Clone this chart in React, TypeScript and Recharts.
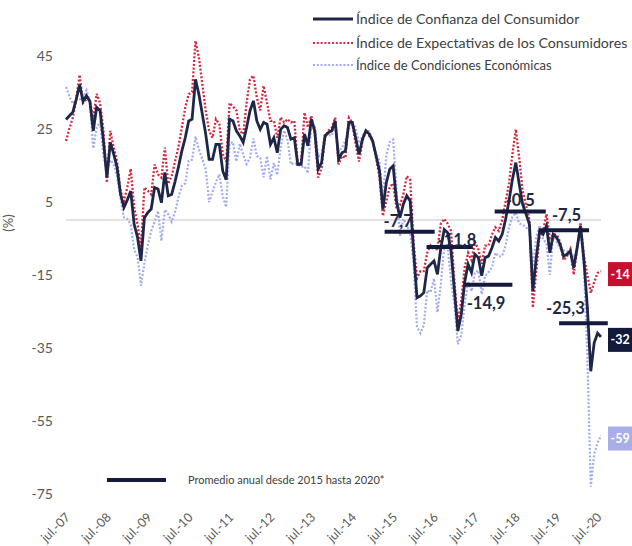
import { LineChart, Line, XAxis, YAxis, ReferenceLine } from "recharts";

// monthly series, jun-07 .. jul-20 (index 0 = jun-07)
const icc = [
  27.5, 28.5, 29.5, 33, 37, 32.5, 34, 32.5, 24.4, 30.8,
  29.9, 21.6, 11.6, 21.2, 18, 14.3, 7.1, 3.4, 5.5, 7.9,
  -1.2, -4.8, -11.2, 0.6, 2, 3, 8.9, 8.5, 4.7, 13,
  6.6, 7, 10.5, 14.5, 18.9, 22.5, 27.1, 27.6, 38.5, 34.4,
  29, 23.5, 16.6, 16.6, 20.7, 20.7, 13.4, 11, 27.6, 27.1,
  24.4, 23, 21.2, 25.3, 29.9, 32.6, 27.1, 24.8, 26.7, 26.2,
  20.7, 22.5, 18.4, 24.8, 25.8, 25.3, 22.1, 22.5, 15.2, 15.2,
  23.5, 20.3, 27.6, 24.4, 13.9, 15.7, 23, 23.9, 24.4, 27.1,
  16.6, 18.4, 18.9, 26.7, 26.7, 22.5, 18, 22.1, 24.4, 23.5,
  21.6, 17.5, 13.4, 2.9, 10.2, 13.9, 14.8, 5.2, 0.6, 4.3,
  6.6, 5.2, -8.5, -21.3, -20.8, -19.9, -13.1, -12.1, -11.2, -14.9,
  -7.6, -2.6, -3.5, -8.5, -19.5, -30.4, -25.8, -17, -12.1, -14.4,
  -9.4, -10.3, -15.3, -10.3, -9.9, -7.6, -4.8, -5.8, -3.9, 0.2,
  5.2, 11.1, 15.7, 9.8, 4.3, 1.6, -1.2, -19.5, -10.3, -3,
  -3.9, -1.6, -9, -3.9, -4.8, -6.7, -9.9, -9.4, -8.5, -13.1,
  -7.6, -1.6, -11.2, -24, -41.4, -33.6, -31, -32,
];

const iec = [
  21.6, 25, 28, 33, 39.7, 32, 33, 32.6, 27.6, 34.5,
  32, 24.4, 10.2, 24.4, 19.8, 16, 7.9, 5.2, 9, 14,
  3.4, -1.2, -7.6, 8.9, 8, 7, 15.2, 12.5, 11.6, 19.8,
  9.9, 12, 16, 20, 25.3, 30.8, 34.4, 35, 49, 44.5,
  37.2, 29.9, 24.4, 22.5, 27.6, 26.2, 18, 16, 32, 31,
  30, 24.4, 23.5, 32, 38.5, 39.5, 33.5, 30, 36.7, 32,
  27.1, 27.1, 22.5, 28.1, 26.7, 27.6, 26.7, 27.1, 15.2, 15.7,
  29.4, 25.3, 28.5, 23.5, 11.6, 14.3, 22.5, 24.4, 25.3, 28,
  15.2, 17.5, 17, 28, 26.7, 20.7, 16, 21.6, 24.4, 23,
  21.6, 17, 11.6, 1.1, 5.2, 9, 10, 3, 4, 7,
  12, 11, -6, -16, -14, -14, -9, -7, -8, -8,
  -1, 0.3, -1, -3, -17, -28, -22, -13, -9, -11,
  -6, -8, -12, -7, -7, -4, -2, -3, 0, 5,
  10, 18, 24.8, 17, 8, 4, 0, -24, -14, -4,
  -3, 1.6, -5, -3.9, -4, -6, -11, -10, -8, -15,
  -7.6, -0.7, -10, -15, -20, -17, -14.5, -14,
];

const ice = [
  36.4, 33.8, 31.8, 33, 33, 33.3, 35.5, 32.4, 19.6, 25.3,
  26.8, 17.4, 13.7, 16.4, 15.3, 11.8, 5.9, 0.7, 0.3, -1.3,
  -8.1, -10.2, -18, -11.9, -7, -3, -0.5, 2.5, -5.7, 2.8,
  1.6, -0.5, 2.2, 6.2, 9.3, 10, 16.2, 16.5, 22.8, 19.3,
  16.7, 13.9, 4.9, 7.8, 10.4, 12.5, 6.5, 3.5, 21, 21.3,
  16, 20.9, 17.8, 15.3, 17, 22.3, 17.5, 17, 11.7, 17.5,
  11.1, 15.6, 12.3, 19.9, 24.5, 21.9, 15.2, 15.6, 15.2, 14.5,
  14.7, 12.8, 26.3, 25.8, 17.4, 17.8, 23.8, 23.2, 23.1, 25.8,
  18.7, 19.8, 21.8, 24.8, 26.7, 25.2, 21, 22.9, 24.4, 24.3,
  21.6, 18.3, 16.1, 5.6, 17.7, 21.3, 22, 8.5, -4.5, 0.3,
  -1.5, -3.5, -12.3, -29.3, -31, -28.8, -19.3, -19.8, -16, -25.3,
  -17.5, -7, -7.3, -16.8, -23.3, -34, -31.5, -23, -16.8, -19.5,
  -14.5, -13.8, -20.3, -15.3, -14.3, -13, -9, -10, -9.8, -7,
  -2, 0.8, 2, -1, -1.3, -2, -3, -12.8, -4.8, -1.5,
  -5.3, -6.4, -15, -3.9, -6, -7.8, -8.3, -8.5, -9.3, -10.3,
  -7.6, -3, -13, -37.5, -73, -64, -61, -59,
];

const xTicks = [1, 13, 25, 37, 49, 61, 73, 85, 97, 109, 121, 133, 145, 157];
const xTickLabels = [
  "jul.-07", "jul.-08", "jul.-09", "jul.-10", "jul.-11", "jul.-12", "jul.-13",
  "jul.-14", "jul.-15", "jul.-16", "jul.-17", "jul.-18", "jul.-19", "jul.-20",
];
const yTicks = [-75, -55, -35, -15, 5, 25, 45];

// annual averages 2015-2020 (level as drawn, span in month index, printed text)
const avgText = ["-7,7", "-11,8", "-14,9", "-0,5", "-7,5", "-25,3"];
const avgLevel = [-3.2, -7.4, -17.7, 2.3, -2.8, -28.3];
const avgFrom = [93.5, 105.8, 117, 125.8, 138.8, 144.7];
const avgTo = [108.2, 119.4, 131, 140.8, 153.5, 159];

const data = icc.map((v, i) => ({ i, icc: v, iec: iec[i], ice: ice[i] }));

const NAVY = "#1f2749";
const BAR = "#141a3c";
const RED = "#d3293f";
const LAV = "#a4aaee";
const FONT = "Lato, 'Liberation Sans', sans-serif";

// label text offsets from the left end of each bar
const labelDx = [-1, 11, 2, 11, 13, -13];
const labelDy = [-5, -1, 24, -6, -9, -9];

const XTick = (props: any) => {
  const { x, y, payload } = props;
  const k = xTicks.indexOf(payload.value);
  const ax = x + 1.5;
  const ay = y + 24;
  return (
    <text
      x={ax}
      y={ay}
      transform={`rotate(-45 ${ax} ${ay})`}
      textAnchor="end"
      fontSize={12.5}
      fill="#595959"
      fontFamily={FONT}
    >
      {xTickLabels[k]}
    </text>
  );
};

const endLabel = (fill: string) => (props: any) => {
  const { x, y, index, value } = props;
  if (index !== icc.length - 1) return null;
  return (
    <g>
      <rect x={x + 7} y={y - 9} width={34} height={24} fill={fill} />
      <text x={x + 9.5} y={y + 7.5} fontSize={12.5} fontWeight={700} fill="#fff" fontFamily={FONT}>
        {Math.round(value)}
      </text>
    </g>
  );
};

const avgLabel = (k: number) => (props: any) => {
  const vb = props.viewBox || { x: 0, y: 0 };
  return (
    <text
      x={vb.x + labelDx[k]}
      y={vb.y + labelDy[k]}
      fontSize={16.5}
      fontWeight={700}
      fill="#1e2846"
      fontFamily={FONT}
    >
      {avgText[k]}
    </text>
  );
};

export default function App() {
  return (
    <div style={{ position: "absolute", left: 0, top: 0, width: 632, height: 546, overflow: "hidden", background: "#fff" }}>
      <LineChart width={632} height={546} data={data} margin={{ top: 19, right: 31, bottom: 0, left: 0 }}>
        <XAxis
          type="number"
          dataKey="i"
          domain={[0, 157]}
          ticks={xTicks}
          interval={0}
          axisLine={false}
          tickLine={false}
          tickSize={0}
          tickMargin={0}
          height={52}
          tick={<XTick />}
        />
        <YAxis
          domain={[-75, 55]}
          ticks={yTicks}
          width={66}
          axisLine={false}
          tickLine={false}
          tickSize={0}
          tickMargin={13}
          tick={{ fontSize: 14, fill: "#595959", fontFamily: FONT }}
        />
        <ReferenceLine y={0} stroke="#d9d9d9" strokeWidth={1.5} />
        <Line
          dataKey="ice"
          stroke={LAV}
          strokeWidth={2.2}
          strokeDasharray="2 1.8"
          dot={false}
          isAnimationActive={false}
          label={endLabel("#a9ade8")}
        />
        <Line
          dataKey="iec"
          stroke={RED}
          strokeWidth={2.3}
          strokeDasharray="2 1.8"
          dot={false}
          isAnimationActive={false}
          label={endLabel("#c8102e")}
        />
        <Line
          dataKey="icc"
          stroke={NAVY}
          strokeWidth={2.8}
          dot={false}
          isAnimationActive={false}
          label={endLabel(BAR)}
        />
        {avgText.map((_, k) => (
          <ReferenceLine
            key={k}
            segment={[
              { x: avgFrom[k], y: avgLevel[k] },
              { x: avgTo[k], y: avgLevel[k] },
            ]}
            stroke={BAR}
            strokeWidth={4}
            ifOverflow="visible"
            label={avgLabel(k)}
          />
        ))}
      </LineChart>
      <svg width={632} height={546} style={{ position: "absolute", left: 0, top: 0, pointerEvents: "none" }}>
        <g fontFamily={FONT} fill="#404040">
          <line x1={313} x2={353} y1={19} y2={19} stroke={NAVY} strokeWidth={2.8} />
          <text x={356} y={24} fontSize={14.2}>Índice de Confianza del Consumidor</text>
          <line x1={313} x2={353} y1={43} y2={43} stroke={RED} strokeWidth={2.2} strokeDasharray="2 1.8" />
          <text x={356} y={48} fontSize={14.2}>Índice de Expectativas de los Consumidores</text>
          <line x1={313} x2={353} y1={65} y2={65} stroke={LAV} strokeWidth={2.2} strokeDasharray="2 1.8" />
          <text x={356} y={69.5} fontSize={13}>Índice de Condiciones Económicas</text>
          <line x1={107} x2={166} y1={480} y2={480} stroke={BAR} strokeWidth={4} />
          <text x={188} y={484} fontSize={11}>Promedio anual desde 2015 hasta 2020*</text>
          <text x={13} y={223} fontSize={13} fill="#595959" textAnchor="middle" transform="rotate(-90 13 223)">(%)</text>
        </g>
      </svg>
    </div>
  );
}
